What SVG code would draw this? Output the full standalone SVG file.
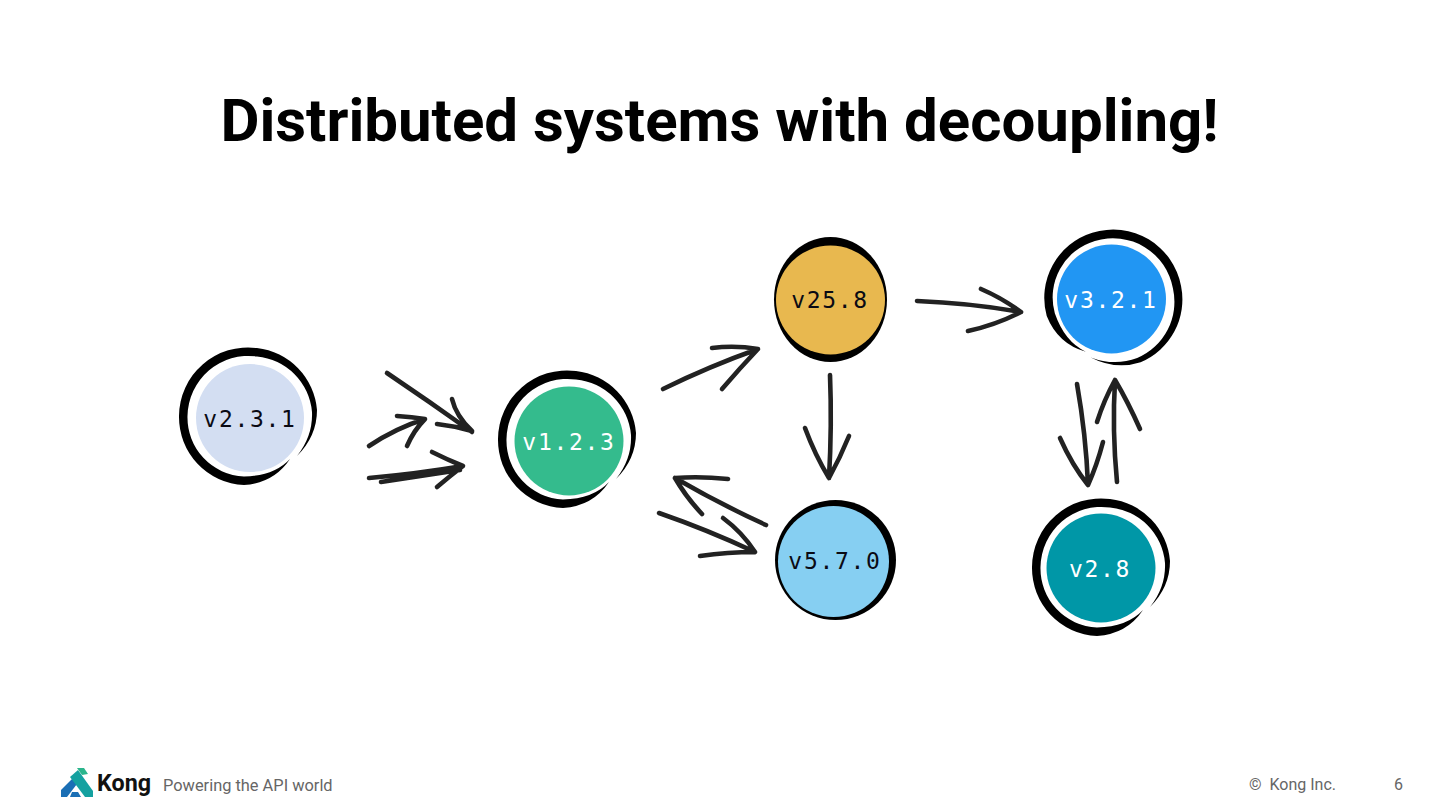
<svg xmlns="http://www.w3.org/2000/svg" width="1440" height="810" viewBox="0 0 1440 810">
<style>
.ar{fill:none;stroke:#222;stroke-width:4.6;stroke-linecap:round;stroke-linejoin:round}
.th{stroke-width:5.5}
.v{font-family:"DejaVu Sans Mono",monospace;font-size:23px;letter-spacing:1.7px;text-anchor:middle}
.d{fill:#0a0a14}.w{fill:#fff}
.f{font-family:Roboto,"Liberation Sans",sans-serif;fill:#666}
</style>
<defs>
<path id="ring" fill="#000" d="M41,41 Q25,65 -5,67 A68,68 0 0 1 -70,-2 A69,69 0 0 1 8,-70 A68,68 0 0 1 68,-8 Q68,18 48,38 Q64,18 63,-6 A61,61 0 0 0 8,-61.500 A61,61 0 0 0 -61.500,-2 A59,59 0 0 0 -5,58.500 Q25,58 41,41 Z"/>
</defs>
<rect width="1440" height="810" fill="#fff"/>
<text id="title" x="719.500" y="141" text-anchor="middle" font-family="Roboto,'Liberation Sans',sans-serif" font-weight="700" font-size="60" fill="#000">Distributed systems with decoupling!</text>
<g id="connectors">
<path class="ar" d="M387,373 Q430,402 472,432 M452,399 Q456,416 472,431 Q455,426 437,424"/>
<path class="ar" d="M369,446 Q396,428 425,419 M397,416 Q412,417 425,419 Q414,430 407,446"/>
<path class="ar" d="M369,478 Q415,474 463,466 M381,482 Q420,476 460,470 M432,452 Q448,460 463,466 Q450,476 437,487"/>
<path class="ar" d="M663,389 Q710,366 758,349 M712,348 Q735,345 758,349 Q740,368 722,389"/>
<path class="ar" d="M830,375 Q832,425 829,478 M805,428 Q815,455 829,478 Q840,458 849,436"/>
<path class="ar" d="M766,525 Q720,504 675,478 M728,479 Q700,476 675,478 Q686,497 702,514"/>
<path class="ar" d="M659,513 Q708,530 755,552 M723,518 Q742,532 755,552 Q728,552 700,556"/>
<path class="ar" d="M917,301 Q970,303 1021,312 M981,289 Q1002,298 1021,312 Q996,325 968,331"/>
<path class="ar" d="M1077,384 Q1086,435 1088,485 M1060,438 Q1072,465 1088,485 Q1097,465 1103,442"/>
<path class="ar" d="M1117,482 Q1112,430 1115,380 M1097,422 Q1104,400 1115,380 Q1128,402 1140,429"/>
</g>
<g id="n1"><use href="#ring" x="249" y="418"/><circle cx="250" cy="418" r="54" fill="#d3def2"/><text class="v d" x="250" y="427">v2.3.1</text></g>
<g id="n2"><use href="#ring" x="568" y="441"/><circle cx="569" cy="441" r="54.500" fill="#34bb8d"/><text class="v w" x="569" y="450">v1.2.3</text></g>
<g id="n3"><ellipse cx="830.500" cy="299.500" rx="56.500" ry="62.500" fill="#000"/><circle cx="830.500" cy="300" r="54.500" fill="#e8b84f"/><text class="v d" x="830" y="308">v25.8</text></g>
<g id="n4"><ellipse cx="835.500" cy="560" rx="60.500" ry="60" fill="#000"/><circle cx="833.500" cy="561.500" r="55.500" fill="#86cff2"/><text class="v d" x="835" y="569">v5.7.0</text></g>
<g id="n5"><use href="#ring" transform="translate(1112,300) rotate(72)"/><circle cx="1111.500" cy="299" r="54.500" fill="#2196f3"/><text class="v w" x="1111" y="308">v3.2.1</text></g>
<g id="n6"><use href="#ring" x="1102" y="569"/><circle cx="1101" cy="568" r="54.500" fill="#0097a7"/><text class="v w" x="1100" y="577">v2.8</text></g>
<g id="footer">
<g id="logo">
<path fill="#1a6fb5" d="M61,797 L61,790 L72,779 L77,784 L67,797 Z"/>
<path fill="#14a1a0" d="M70,777 L78,770 L93,791 L93,797 L85,797 Z"/>
<path fill="#2bb58c" d="M77,768 L84,768 L88,774 L82,775 Z"/>
<path fill="#1a6fb5" d="M72,792 L78,792 L81,797 L70,797 Z"/>
</g>
<text x="97" y="791" font-family="Roboto,sans-serif" font-weight="700" font-size="23.300" fill="#111">Kong</text>
<text class="f" x="163" y="791" font-size="16.400">Powering the API world</text>
<text class="f" x="1249" y="790" font-size="16" xml:space="preserve">©  Kong Inc.</text>
<text class="f" x="1394" y="790" font-size="16">6</text>
</g>
</svg>
